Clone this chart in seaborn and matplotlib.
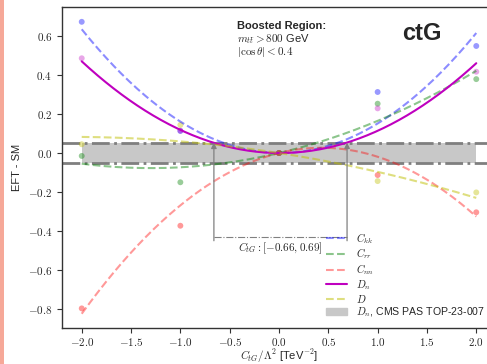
import numpy as np
import pandas as pd
import matplotlib
matplotlib.use("Agg")
import matplotlib.pyplot as plt
import seaborn as sns
from matplotlib.ticker import FuncFormatter
from matplotlib.lines import Line2D
from matplotlib.patches import Patch, Rectangle

# ---- data ----
x_points = [-2.0, -1.0, 0.0, 1.0, 2.0]
ckk = [0.673, 0.113, 0.0, 0.313, 0.549]
crr = [-0.015, -0.150, 0.0, 0.253, 0.379]
cnn = [-0.797, -0.373, 0.0, -0.113, -0.304]
dn = [0.486, 0.115, 0.0, 0.229, 0.417]
d_vals = [0.045, 0.144, 0.0, -0.144, -0.202]
band_half = 0.053          # D_n, CMS PAS TOP-23-007 band (+/-)
band_x = [-2.0, 2.0]
interval = [-0.66, 0.69]   # C_tG interval
xticks = [-2.0, -1.5, -1.0, -0.5, 0.0, 0.5, 1.0, 1.5, 2.0]
yticks = [-0.8, -0.6, -0.4, -0.2, 0.0, 0.2, 0.4, 0.6]

series = [
    ("$C_{kk}$", ckk, "blue", 0.45, "--"),
    ("$C_{rr}$", crr, "green", 0.45, "--"),
    ("$C_{nn}$", cnn, "red", 0.4, "--"),
    ("$D_n$", dn, "m", 1.0, "-"),
    ("$D$", d_vals, "y", 0.5, "--"),
]

sns.set_style("ticks")
plt.rcParams["font.family"] = ["Liberation Sans", "DejaVu Sans"]
plt.rcParams["mathtext.fontset"] = "cm"

fig = plt.figure(figsize=(4.87, 3.64), dpi=100)
ax = fig.add_axes([62 / 487, 1 - 327.7 / 364, 434 / 487, (327.7 - 7) / 364])

# band
ax.fill_between(band_x, [-band_half] * 2, [band_half] * 2, color="#c8c8c8", lw=0, zorder=1)
ax.axhline(band_half, color="#7f7f7f", ls="-.", lw=2.0, zorder=2)
ax.axhline(-band_half, color="#7f7f7f", ls="-.", lw=2.0, zorder=2)

xs = np.linspace(-2, 2, 200)
xp = np.array(x_points)
A = np.vstack([xp ** 2, xp]).T
for label, vals, col, alpha, ls in series:
    pts = pd.DataFrame({"x": x_points, "y": vals})
    sns.scatterplot(data=pts, x="x", y="y", ax=ax, color=col, alpha=0.4 if col != "m" else 0.35,
                    s=18, edgecolor="none", zorder=3)
    coef, *_ = np.linalg.lstsq(A, np.array(vals), rcond=None)
    fit = pd.DataFrame({"x": xs, "y": coef[0] * xs ** 2 + coef[1] * xs})
    sns.lineplot(data=fit, x="x", y="y", ax=ax, color=col, alpha=alpha, ls=ls,
                 lw=1.5, zorder=4)

# interval arrows
for xv in interval:
    ax.annotate("", xy=(xv, band_half), xytext=(xv, -0.45),
                arrowprops=dict(arrowstyle="-|>", color="#808080", lw=0.9,
                                mutation_scale=8, shrinkA=0, shrinkB=0), zorder=5)
ax.plot(interval, [-0.43, -0.43], color="#808080", ls="-.", lw=0.8, zorder=5)
ax.text(0.015, -0.487, r"$C_{tG}: [%.2f, %.2f]$" % (interval[0], interval[1]),
        ha="center", va="center", fontsize=8)

# annotations
ax.text(-0.423, 0.652, "Boosted Region:", fontsize=8, fontweight="bold", ha="left", va="center")
ax.text(-0.423, 0.585, r"$m_{t\bar{t}} > 800$ GeV", fontsize=8, ha="left", va="center")
ax.text(-0.423, 0.517, r"$|\cos\theta| < 0.4$", fontsize=8, ha="left", va="center")
ax.text(1.45, 0.615, "ctG", fontsize=17, fontweight="bold", ha="center", va="center")

ax.set_xlim(-2.2, 2.2)
ax.set_ylim(-0.896, 0.749)
ax.set_xticks(xticks)
ax.set_yticks(yticks)
fmt = FuncFormatter(lambda v, p: "$%.1f$" % v)
ax.xaxis.set_major_formatter(fmt)
ax.yaxis.set_major_formatter(fmt)
ax.tick_params(labelsize=8, length=3.5, width=0.8, color="#333333")
ax.tick_params(axis="x", pad=2.5)
for s in ax.spines.values():
    s.set_color("#333333")
    s.set_linewidth(1.0)
ax.set_xlabel(r"$C_{tG}/\Lambda^2$ [TeV$^{-2}$]", fontsize=8, labelpad=-0.3)
ax.set_ylabel("EFT - SM", fontsize=8)

handles = []
for label, vals, col, alpha, ls in series:
    handles.append(Line2D([], [], color=col, alpha=alpha, ls=ls, lw=1.5, label=label))
handles.append(Patch(color="#c8c8c8", label="$D_n$, CMS PAS TOP-23-007"))
ax.legend(handles=handles, loc="lower left", bbox_to_anchor=(326 / 487, 1 - 319 / 364),
          bbox_transform=fig.transFigure, frameon=False, fontsize=7.6, borderpad=0,
          borderaxespad=0, labelspacing=0.08, handletextpad=0.8)

fig.add_artist(Rectangle((0, 0), 4 / 487, 1, transform=fig.transFigure,
                         color="#f6a898", lw=0))

fig.savefig("out.png", dpi=100)
